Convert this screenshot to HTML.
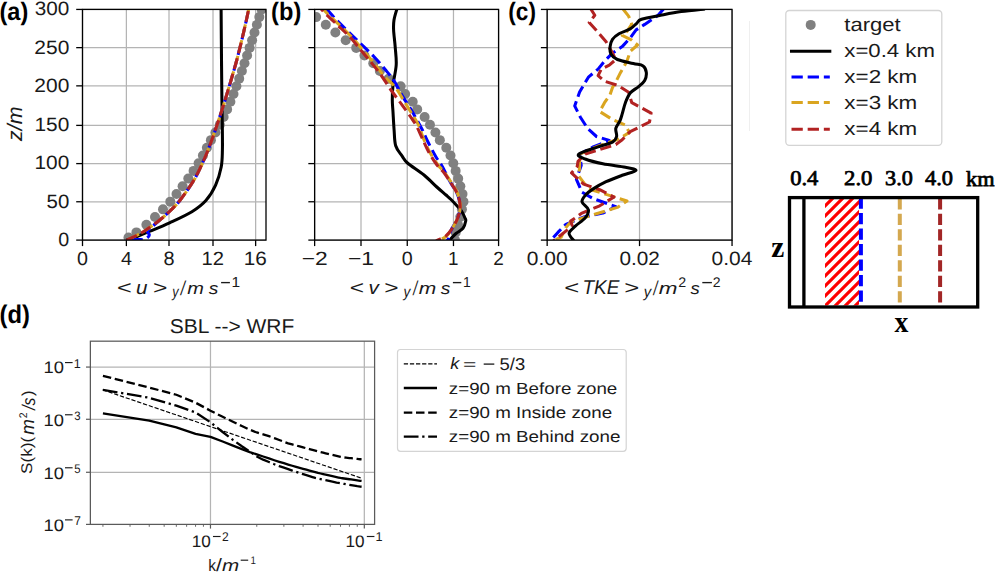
<!DOCTYPE html><html><head><meta charset="utf-8"><title>figure</title><style>html,body{margin:0;padding:0;background:#fff;overflow:hidden}svg{display:block}</style></head><body>
<svg width="995" height="573" viewBox="0 0 995 573" text-rendering="geometricPrecision">
<rect width="995" height="573" fill="#fff"/>
<defs>
<clipPath id="ca"><rect x="82.5" y="9.43" width="183.5" height="230.67"/></clipPath>
<clipPath id="cb"><rect x="314.63" y="9.43" width="183.95" height="230.67"/></clipPath>
<clipPath id="cc"><rect x="547.16" y="9.43" width="184.89" height="230.67"/></clipPath>
<clipPath id="cd"><rect x="90.37" y="341.18" width="284.23" height="183.21"/></clipPath>
<pattern id="hatch" patternUnits="userSpaceOnUse" width="10" height="10" patternTransform="translate(824,197)"><rect width="10" height="10" fill="#fff"/><path d="M-2.5,2.5 L2.5,-2.5 M0,10 L10,0 M7.5,12.5 L12.5,7.5" stroke="#ff0000" stroke-width="3.1"/></pattern>
</defs>
<line x1="82.50" y1="9.43" x2="82.50" y2="240.1" stroke="#b4b4b4" stroke-width="1.25"/>
<line x1="126.38" y1="9.43" x2="126.38" y2="240.1" stroke="#b4b4b4" stroke-width="1.25"/>
<line x1="169.00" y1="9.43" x2="169.00" y2="240.1" stroke="#b4b4b4" stroke-width="1.25"/>
<line x1="213.00" y1="9.43" x2="213.00" y2="240.1" stroke="#b4b4b4" stroke-width="1.25"/>
<line x1="255.64" y1="9.43" x2="255.64" y2="240.1" stroke="#b4b4b4" stroke-width="1.25"/>
<line x1="82.5" y1="240.10" x2="266.0" y2="240.10" stroke="#b4b4b4" stroke-width="1.25"/>
<line x1="82.5" y1="201.76" x2="266.0" y2="201.76" stroke="#b4b4b4" stroke-width="1.25"/>
<line x1="82.5" y1="163.60" x2="266.0" y2="163.60" stroke="#b4b4b4" stroke-width="1.25"/>
<line x1="82.5" y1="125.39" x2="266.0" y2="125.39" stroke="#b4b4b4" stroke-width="1.25"/>
<line x1="82.5" y1="85.86" x2="266.0" y2="85.86" stroke="#b4b4b4" stroke-width="1.25"/>
<line x1="82.5" y1="47.64" x2="266.0" y2="47.64" stroke="#b4b4b4" stroke-width="1.25"/>
<line x1="82.5" y1="9.43" x2="266.0" y2="9.43" stroke="#b4b4b4" stroke-width="1.25"/>
<g clip-path="url(#ca)">
<circle cx="128.5" cy="237.5" r="5" fill="#808080"/>
<circle cx="136.4" cy="232.41" r="5" fill="#808080"/>
<circle cx="146.4" cy="224.72" r="5" fill="#808080"/>
<circle cx="155" cy="217.03" r="5" fill="#808080"/>
<circle cx="163" cy="209.34" r="5" fill="#808080"/>
<circle cx="170.3" cy="201.66" r="5" fill="#808080"/>
<circle cx="176.5" cy="193.97" r="5" fill="#808080"/>
<circle cx="182.6" cy="186.28" r="5" fill="#808080"/>
<circle cx="188.3" cy="178.59" r="5" fill="#808080"/>
<circle cx="193.6" cy="170.90" r="5" fill="#808080"/>
<circle cx="198.6" cy="163.21" r="5" fill="#808080"/>
<circle cx="202.9" cy="155.52" r="5" fill="#808080"/>
<circle cx="206.9" cy="147.83" r="5" fill="#808080"/>
<circle cx="210.9" cy="140.14" r="5" fill="#808080"/>
<circle cx="215.4" cy="132.45" r="5" fill="#808080"/>
<circle cx="219.8" cy="124.77" r="5" fill="#808080"/>
<circle cx="223.6" cy="117.08" r="5" fill="#808080"/>
<circle cx="227.1" cy="109.39" r="5" fill="#808080"/>
<circle cx="230.4" cy="101.70" r="5" fill="#808080"/>
<circle cx="233.5" cy="94.01" r="5" fill="#808080"/>
<circle cx="236.4" cy="86.32" r="5" fill="#808080"/>
<circle cx="239.2" cy="78.63" r="5" fill="#808080"/>
<circle cx="241.9" cy="70.94" r="5" fill="#808080"/>
<circle cx="244.5" cy="63.25" r="5" fill="#808080"/>
<circle cx="247.1" cy="55.56" r="5" fill="#808080"/>
<circle cx="249.6" cy="47.88" r="5" fill="#808080"/>
<circle cx="252.1" cy="40.19" r="5" fill="#808080"/>
<circle cx="254.5" cy="32.50" r="5" fill="#808080"/>
<circle cx="256.9" cy="24.81" r="5" fill="#808080"/>
<circle cx="259.3" cy="17.12" r="5" fill="#808080"/>
<circle cx="261.7" cy="9.43" r="5" fill="#808080"/>
<path d="M126.30,240.20 C128.08,239.58 133.05,238.00 137.00,236.50 C140.95,235.00 144.57,233.48 150.00,231.20 C155.43,228.92 162.62,226.05 169.60,222.80 C176.58,219.55 185.85,215.42 191.90,211.70 C197.95,207.98 201.95,204.93 205.90,200.50 C209.85,196.07 213.05,190.68 215.60,185.10 C218.15,179.52 220.07,172.85 221.20,167.00 C222.33,161.15 222.22,157.00 222.40,150.00 C222.58,143.00 222.38,133.33 222.30,125.00 C222.22,116.67 222.03,110.83 221.90,100.00 C221.77,89.17 221.63,75.17 221.50,60.00 C221.37,44.83 221.17,17.50 221.10,9.00" fill="none" stroke="#000" stroke-width="3.05"/>
<path d="M126.50,240.20 C128.42,240.10 135.03,239.73 138.00,239.60 C140.97,239.47 142.53,239.92 144.30,239.40 C146.07,238.88 147.78,237.33 148.60,236.50 C149.42,235.67 149.38,235.18 149.20,234.40 C149.02,233.62 147.37,232.77 147.50,231.80 C147.63,230.83 147.95,230.57 150.00,228.60 C152.05,226.63 156.30,223.10 159.80,220.00 C163.30,216.90 167.60,213.33 171.00,210.00 C174.40,206.67 176.37,205.00 180.20,200.00 C184.03,195.00 190.05,186.67 194.00,180.00 C197.95,173.33 200.93,166.67 203.90,160.00 C206.87,153.33 209.33,146.67 211.80,140.00 C214.27,133.33 216.48,126.67 218.70,120.00 C220.92,113.33 223.03,106.67 225.10,100.00 C227.17,93.33 229.15,86.67 231.10,80.00 C233.05,73.33 235.02,66.67 236.80,60.00 C238.58,53.33 240.20,46.67 241.80,40.00 C243.40,33.33 245.25,25.17 246.40,20.00 C247.55,14.83 248.32,10.83 248.70,9.00" fill="none" stroke="#0000ff" stroke-width="3.05" stroke-dasharray="11.29,4.88" stroke-dashoffset="-5"/>
<path d="M126.50,240.20 C128.33,239.33 134.25,236.70 137.50,235.00 C140.75,233.30 142.28,232.50 146.00,230.00 C149.72,227.50 155.63,223.33 159.80,220.00 C163.97,216.67 167.60,213.33 171.00,210.00 C174.40,206.67 176.37,205.00 180.20,200.00 C184.03,195.00 190.05,186.67 194.00,180.00 C197.95,173.33 200.93,166.67 203.90,160.00 C206.87,153.33 209.33,146.67 211.80,140.00 C214.27,133.33 216.48,126.67 218.70,120.00 C220.92,113.33 223.03,106.67 225.10,100.00 C227.17,93.33 229.15,86.67 231.10,80.00 C233.05,73.33 235.02,66.67 236.80,60.00 C238.58,53.33 240.20,46.67 241.80,40.00 C243.40,33.33 245.25,25.17 246.40,20.00 C247.55,14.83 248.32,10.83 248.70,9.00" fill="none" stroke="#daa520" stroke-width="3.05" stroke-dasharray="11.29,4.88" stroke-dashoffset="-2.5"/>
<path d="M126.50,240.20 C128.33,239.33 134.25,236.70 137.50,235.00 C140.75,233.30 142.28,232.50 146.00,230.00 C149.72,227.50 155.63,223.33 159.80,220.00 C163.97,216.67 167.60,213.33 171.00,210.00 C174.40,206.67 176.37,205.00 180.20,200.00 C184.03,195.00 190.05,186.67 194.00,180.00 C197.95,173.33 200.93,166.67 203.90,160.00 C206.87,153.33 209.33,146.67 211.80,140.00 C214.27,133.33 216.48,126.67 218.70,120.00 C220.92,113.33 223.03,106.67 225.10,100.00 C227.17,93.33 229.15,86.67 231.10,80.00 C233.05,73.33 235.02,66.67 236.80,60.00 C238.58,53.33 240.20,46.67 241.80,40.00 C243.40,33.33 245.25,25.17 246.40,20.00 C247.55,14.83 248.32,10.83 248.70,9.00" fill="none" stroke="#b22222" stroke-width="3.05" stroke-dasharray="11.29,4.88"/>
</g>
<rect x="82.5" y="9.43" width="183.50" height="230.67" fill="none" stroke="#000" stroke-width="1.3"/>
<line x1="82.50" y1="240.1" x2="82.50" y2="246.10" stroke="#000" stroke-width="1.3"/>
<line x1="126.38" y1="240.1" x2="126.38" y2="246.10" stroke="#000" stroke-width="1.3"/>
<line x1="169.00" y1="240.1" x2="169.00" y2="246.10" stroke="#000" stroke-width="1.3"/>
<line x1="213.00" y1="240.1" x2="213.00" y2="246.10" stroke="#000" stroke-width="1.3"/>
<line x1="255.64" y1="240.1" x2="255.64" y2="246.10" stroke="#000" stroke-width="1.3"/>
<line x1="76.20" y1="240.10" x2="82.5" y2="240.10" stroke="#000" stroke-width="1.3"/>
<line x1="76.20" y1="201.76" x2="82.5" y2="201.76" stroke="#000" stroke-width="1.3"/>
<line x1="76.20" y1="163.60" x2="82.5" y2="163.60" stroke="#000" stroke-width="1.3"/>
<line x1="76.20" y1="125.39" x2="82.5" y2="125.39" stroke="#000" stroke-width="1.3"/>
<line x1="76.20" y1="85.86" x2="82.5" y2="85.86" stroke="#000" stroke-width="1.3"/>
<line x1="76.20" y1="47.64" x2="82.5" y2="47.64" stroke="#000" stroke-width="1.3"/>
<line x1="76.20" y1="9.43" x2="82.5" y2="9.43" stroke="#000" stroke-width="1.3"/>
<text x="77.02" y="264.67" font-size="19.23" font-family='"Liberation Sans", sans-serif' font-weight="normal" font-style="normal" fill="#1a1a1a" textLength="10.96" lengthAdjust="spacingAndGlyphs" >0</text>
<text x="120.96" y="264.60" font-size="19.07" font-family='"Liberation Sans", sans-serif' font-weight="normal" font-style="normal" fill="#1a1a1a" textLength="10.96" lengthAdjust="spacingAndGlyphs" >4</text>
<text x="163.46" y="264.67" font-size="19.23" font-family='"Liberation Sans", sans-serif' font-weight="normal" font-style="normal" fill="#1a1a1a" textLength="11.08" lengthAdjust="spacingAndGlyphs" >8</text>
<text x="201.53" y="264.60" font-size="19.13" font-family='"Liberation Sans", sans-serif' font-weight="normal" font-style="normal" fill="#1a1a1a" textLength="22.42" lengthAdjust="spacingAndGlyphs" >12</text>
<text x="243.78" y="264.67" font-size="19.23" font-family='"Liberation Sans", sans-serif' font-weight="normal" font-style="normal" fill="#1a1a1a" textLength="23.05" lengthAdjust="spacingAndGlyphs" >16</text>
<text x="58.31" y="245.97" font-size="19.23" font-family='"Liberation Sans", sans-serif' font-weight="normal" font-style="normal" fill="#1a1a1a" textLength="10.96" lengthAdjust="spacingAndGlyphs" >0</text>
<text x="46.57" y="207.63" font-size="19.23" font-family='"Liberation Sans", sans-serif' font-weight="normal" font-style="normal" fill="#1a1a1a" textLength="22.73" lengthAdjust="spacingAndGlyphs" >50</text>
<text x="34.51" y="169.47" font-size="19.23" font-family='"Liberation Sans", sans-serif' font-weight="normal" font-style="normal" fill="#1a1a1a" textLength="34.80" lengthAdjust="spacingAndGlyphs" >100</text>
<text x="34.51" y="131.26" font-size="19.23" font-family='"Liberation Sans", sans-serif' font-weight="normal" font-style="normal" fill="#1a1a1a" textLength="34.80" lengthAdjust="spacingAndGlyphs" >150</text>
<text x="34.37" y="91.73" font-size="19.23" font-family='"Liberation Sans", sans-serif' font-weight="normal" font-style="normal" fill="#1a1a1a" textLength="34.95" lengthAdjust="spacingAndGlyphs" >200</text>
<text x="34.37" y="53.51" font-size="19.23" font-family='"Liberation Sans", sans-serif' font-weight="normal" font-style="normal" fill="#1a1a1a" textLength="34.95" lengthAdjust="spacingAndGlyphs" >250</text>
<text x="34.68" y="15.30" font-size="19.23" font-family='"Liberation Sans", sans-serif' font-weight="normal" font-style="normal" fill="#1a1a1a" textLength="34.63" lengthAdjust="spacingAndGlyphs" >300</text>
<line x1="314.63" y1="9.43" x2="314.63" y2="240.1" stroke="#b4b4b4" stroke-width="1.25"/>
<line x1="361.00" y1="9.43" x2="361.00" y2="240.1" stroke="#b4b4b4" stroke-width="1.25"/>
<line x1="407.26" y1="9.43" x2="407.26" y2="240.1" stroke="#b4b4b4" stroke-width="1.25"/>
<line x1="453.47" y1="9.43" x2="453.47" y2="240.1" stroke="#b4b4b4" stroke-width="1.25"/>
<line x1="498.58" y1="9.43" x2="498.58" y2="240.1" stroke="#b4b4b4" stroke-width="1.25"/>
<line x1="314.63" y1="240.10" x2="498.58" y2="240.10" stroke="#b4b4b4" stroke-width="1.25"/>
<line x1="314.63" y1="201.76" x2="498.58" y2="201.76" stroke="#b4b4b4" stroke-width="1.25"/>
<line x1="314.63" y1="163.60" x2="498.58" y2="163.60" stroke="#b4b4b4" stroke-width="1.25"/>
<line x1="314.63" y1="125.39" x2="498.58" y2="125.39" stroke="#b4b4b4" stroke-width="1.25"/>
<line x1="314.63" y1="85.86" x2="498.58" y2="85.86" stroke="#b4b4b4" stroke-width="1.25"/>
<line x1="314.63" y1="47.64" x2="498.58" y2="47.64" stroke="#b4b4b4" stroke-width="1.25"/>
<line x1="314.63" y1="9.43" x2="498.58" y2="9.43" stroke="#b4b4b4" stroke-width="1.25"/>
<g clip-path="url(#cb)">
<circle cx="455.00" cy="240.10" r="5" fill="#808080"/>
<circle cx="455.71" cy="232.41" r="5" fill="#808080"/>
<circle cx="458.00" cy="224.72" r="5" fill="#808080"/>
<circle cx="460.29" cy="217.03" r="5" fill="#808080"/>
<circle cx="461.93" cy="209.34" r="5" fill="#808080"/>
<circle cx="463.47" cy="201.66" r="5" fill="#808080"/>
<circle cx="462.53" cy="193.97" r="5" fill="#808080"/>
<circle cx="460.35" cy="186.28" r="5" fill="#808080"/>
<circle cx="458.19" cy="178.59" r="5" fill="#808080"/>
<circle cx="455.65" cy="170.90" r="5" fill="#808080"/>
<circle cx="453.30" cy="163.21" r="5" fill="#808080"/>
<circle cx="450.51" cy="155.52" r="5" fill="#808080"/>
<circle cx="446.29" cy="147.83" r="5" fill="#808080"/>
<circle cx="439.84" cy="140.14" r="5" fill="#808080"/>
<circle cx="435.43" cy="132.45" r="5" fill="#808080"/>
<circle cx="429.97" cy="124.77" r="5" fill="#808080"/>
<circle cx="424.64" cy="117.08" r="5" fill="#808080"/>
<circle cx="417.20" cy="109.39" r="5" fill="#808080"/>
<circle cx="412.71" cy="101.70" r="5" fill="#808080"/>
<circle cx="405.11" cy="94.01" r="5" fill="#808080"/>
<circle cx="400.61" cy="86.32" r="5" fill="#808080"/>
<circle cx="388.66" cy="78.63" r="5" fill="#808080"/>
<circle cx="379.85" cy="70.94" r="5" fill="#808080"/>
<circle cx="373.25" cy="63.25" r="5" fill="#808080"/>
<circle cx="364.45" cy="55.56" r="5" fill="#808080"/>
<circle cx="356.20" cy="47.88" r="5" fill="#808080"/>
<circle cx="345.71" cy="40.19" r="5" fill="#808080"/>
<circle cx="335.37" cy="32.50" r="5" fill="#808080"/>
<circle cx="325.80" cy="24.81" r="5" fill="#808080"/>
<circle cx="316.12" cy="17.12" r="5" fill="#808080"/>
<circle cx="306.43" cy="9.43" r="5" fill="#808080"/>
<path d="M396.90,9.00 C396.42,10.83 394.55,16.50 394.00,20.00 C393.45,23.50 393.40,25.50 393.60,30.00 C393.80,34.50 394.77,41.17 395.20,47.00 C395.63,52.83 396.57,58.67 396.20,65.00 C395.83,71.33 393.65,79.17 393.00,85.00 C392.35,90.83 392.30,95.50 392.30,100.00 C392.30,104.50 392.70,107.00 393.00,112.00 C393.30,117.00 393.65,124.38 394.10,130.00 C394.55,135.62 394.38,141.38 395.70,145.70 C397.02,150.02 400.03,153.02 402.00,155.90 C403.97,158.78 403.83,159.82 407.50,163.00 C411.17,166.18 419.12,171.00 424.00,175.00 C428.88,179.00 433.13,183.67 436.80,187.00 C440.47,190.33 443.63,192.92 446.00,195.00 C448.37,197.08 449.22,197.75 451.00,199.50 C452.78,201.25 454.95,203.58 456.70,205.50 C458.45,207.42 460.12,208.92 461.50,211.00 C462.88,213.08 464.30,216.33 465.00,218.00 C465.70,219.67 466.03,219.28 465.70,221.00 C465.37,222.72 464.62,226.22 463.00,228.30 C461.38,230.38 458.10,231.67 456.00,233.50 C453.90,235.33 451.48,238.08 450.40,239.30 C449.32,240.52 449.65,240.55 449.50,240.80" fill="none" stroke="#000" stroke-width="3.05"/>
<path d="M326.50,9.00 C328.23,10.90 333.20,16.55 336.90,20.40 C340.60,24.25 344.68,28.17 348.70,32.10 C352.72,36.03 356.82,39.93 361.00,44.00 C365.18,48.07 369.77,52.25 373.80,56.50 C377.83,60.75 381.85,65.47 385.20,69.50 C388.55,73.53 391.10,76.38 393.90,80.70 C396.70,85.02 399.18,90.63 402.00,95.40 C404.82,100.17 408.30,105.20 410.80,109.30 C413.30,113.40 415.07,116.55 417.00,120.00 C418.93,123.45 420.57,126.33 422.40,130.00 C424.23,133.67 425.73,137.50 428.00,142.00 C430.27,146.50 433.67,153.00 436.00,157.00 C438.33,161.00 439.65,161.87 442.00,166.00 C444.35,170.13 447.70,177.47 450.10,181.80 C452.50,186.13 454.82,188.73 456.40,192.00 C457.98,195.27 459.02,198.37 459.60,201.40 C460.18,204.43 460.38,207.03 459.90,210.20 C459.42,213.37 458.15,217.12 456.70,220.40 C455.25,223.68 452.58,226.88 451.20,229.90 C449.82,232.92 449.10,236.68 448.40,238.50 C447.70,240.32 447.23,240.42 447.00,240.80" fill="none" stroke="#0000ff" stroke-width="3.05" stroke-dasharray="11.29,4.88"/>
<path d="M323.20,9.00 C323.93,9.80 324.80,11.05 327.60,13.80 C330.40,16.55 335.92,21.58 340.00,25.50 C344.08,29.42 348.17,33.05 352.10,37.30 C356.03,41.55 359.88,46.62 363.60,51.00 C367.32,55.38 370.92,59.35 374.40,63.60 C377.88,67.85 381.00,72.55 384.50,76.50 C388.00,80.45 392.12,83.17 395.40,87.30 C398.68,91.43 401.15,96.40 404.20,101.30 C407.25,106.20 411.32,112.75 413.70,116.70 C416.08,120.65 416.87,121.35 418.50,125.00 C420.13,128.65 421.63,134.10 423.50,138.60 C425.37,143.10 427.28,147.60 429.70,152.00 C432.12,156.40 435.57,161.67 438.00,165.00 C440.43,168.33 442.17,169.20 444.30,172.00 C446.43,174.80 448.70,178.47 450.80,181.80 C452.90,185.13 455.40,188.73 456.90,192.00 C458.40,195.27 459.30,198.37 459.80,201.40 C460.30,204.43 460.42,207.03 459.90,210.20 C459.38,213.37 458.15,217.12 456.70,220.40 C455.25,223.68 452.90,227.28 451.20,229.90 C449.50,232.52 448.12,234.53 446.50,236.10 C444.88,237.67 442.83,238.52 441.50,239.30 C440.17,240.08 439.00,240.55 438.50,240.80" fill="none" stroke="#daa520" stroke-width="3.05" stroke-dasharray="11.29,4.88" stroke-dashoffset="4"/>
<path d="M321.20,9.00 C321.93,9.80 322.80,11.05 325.60,13.80 C328.40,16.55 333.92,21.58 338.00,25.50 C342.08,29.42 346.17,33.05 350.10,37.30 C354.03,41.55 357.92,46.62 361.60,51.00 C365.28,55.38 368.80,59.35 372.20,63.60 C375.60,67.85 378.75,71.93 382.00,76.50 C385.25,81.07 388.37,86.27 391.70,91.00 C395.03,95.73 398.70,100.38 402.00,104.90 C405.30,109.42 409.08,114.58 411.50,118.10 C413.92,121.62 414.68,122.58 416.50,126.00 C418.32,129.42 420.37,134.27 422.40,138.60 C424.43,142.93 426.27,147.60 428.70,152.00 C431.13,156.40 434.53,161.67 437.00,165.00 C439.47,168.33 441.32,169.20 443.50,172.00 C445.68,174.80 447.95,178.47 450.10,181.80 C452.25,185.13 454.82,188.73 456.40,192.00 C457.98,195.27 459.02,198.37 459.60,201.40 C460.18,204.43 460.38,207.03 459.90,210.20 C459.42,213.37 458.15,217.12 456.70,220.40 C455.25,223.68 453.03,227.28 451.20,229.90 C449.37,232.52 447.67,234.53 445.70,236.10 C443.73,237.67 441.02,238.52 439.40,239.30 C437.78,240.08 436.57,240.55 436.00,240.80" fill="none" stroke="#b22222" stroke-width="3.05" stroke-dasharray="11.29,4.88" stroke-dashoffset="8"/>
</g>
<rect x="314.63" y="9.43" width="183.95" height="230.67" fill="none" stroke="#000" stroke-width="1.3"/>
<line x1="314.63" y1="240.1" x2="314.63" y2="246.10" stroke="#000" stroke-width="1.3"/>
<line x1="361.00" y1="240.1" x2="361.00" y2="246.10" stroke="#000" stroke-width="1.3"/>
<line x1="407.26" y1="240.1" x2="407.26" y2="246.10" stroke="#000" stroke-width="1.3"/>
<line x1="453.47" y1="240.1" x2="453.47" y2="246.10" stroke="#000" stroke-width="1.3"/>
<line x1="498.58" y1="240.1" x2="498.58" y2="246.10" stroke="#000" stroke-width="1.3"/>
<line x1="308.33" y1="240.10" x2="314.63" y2="240.10" stroke="#000" stroke-width="1.3"/>
<line x1="308.33" y1="201.76" x2="314.63" y2="201.76" stroke="#000" stroke-width="1.3"/>
<line x1="308.33" y1="163.60" x2="314.63" y2="163.60" stroke="#000" stroke-width="1.3"/>
<line x1="308.33" y1="125.39" x2="314.63" y2="125.39" stroke="#000" stroke-width="1.3"/>
<line x1="308.33" y1="85.86" x2="314.63" y2="85.86" stroke="#000" stroke-width="1.3"/>
<line x1="308.33" y1="47.64" x2="314.63" y2="47.64" stroke="#000" stroke-width="1.3"/>
<line x1="308.33" y1="9.43" x2="314.63" y2="9.43" stroke="#000" stroke-width="1.3"/>
<text x="301.65" y="264.60" font-size="19.13" font-family='"Liberation Sans", sans-serif' font-weight="normal" font-style="normal" fill="#1a1a1a" textLength="25.98" lengthAdjust="spacingAndGlyphs" >−2</text>
<text x="347.94" y="264.60" font-size="19.07" font-family='"Liberation Sans", sans-serif' font-weight="normal" font-style="normal" fill="#1a1a1a" textLength="26.11" lengthAdjust="spacingAndGlyphs" >−1</text>
<text x="401.78" y="264.67" font-size="19.23" font-family='"Liberation Sans", sans-serif' font-weight="normal" font-style="normal" fill="#1a1a1a" textLength="10.96" lengthAdjust="spacingAndGlyphs" >0</text>
<text x="447.98" y="264.60" font-size="19.07" font-family='"Liberation Sans", sans-serif' font-weight="normal" font-style="normal" fill="#1a1a1a" textLength="10.47" lengthAdjust="spacingAndGlyphs" >1</text>
<text x="493.30" y="264.60" font-size="19.13" font-family='"Liberation Sans", sans-serif' font-weight="normal" font-style="normal" fill="#1a1a1a" textLength="10.57" lengthAdjust="spacingAndGlyphs" >2</text>
<line x1="547.16" y1="9.43" x2="547.16" y2="240.1" stroke="#b4b4b4" stroke-width="1.25"/>
<line x1="639.53" y1="9.43" x2="639.53" y2="240.1" stroke="#b4b4b4" stroke-width="1.25"/>
<line x1="732.05" y1="9.43" x2="732.05" y2="240.1" stroke="#b4b4b4" stroke-width="1.25"/>
<line x1="547.16" y1="240.10" x2="732.05" y2="240.10" stroke="#b4b4b4" stroke-width="1.25"/>
<line x1="547.16" y1="201.76" x2="732.05" y2="201.76" stroke="#b4b4b4" stroke-width="1.25"/>
<line x1="547.16" y1="163.60" x2="732.05" y2="163.60" stroke="#b4b4b4" stroke-width="1.25"/>
<line x1="547.16" y1="125.39" x2="732.05" y2="125.39" stroke="#b4b4b4" stroke-width="1.25"/>
<line x1="547.16" y1="85.86" x2="732.05" y2="85.86" stroke="#b4b4b4" stroke-width="1.25"/>
<line x1="547.16" y1="47.64" x2="732.05" y2="47.64" stroke="#b4b4b4" stroke-width="1.25"/>
<line x1="547.16" y1="9.43" x2="732.05" y2="9.43" stroke="#b4b4b4" stroke-width="1.25"/>
<g clip-path="url(#cc)">
<path d="M663.50,9.00 L658.10,15.30 L644.70,24.40 L636.10,29.90 L630.50,37.50 L622.20,46.60 L612.50,53.10 L604.50,61.10 L598.10,69.10 L588.40,77.20 L579.60,92.00 L574.70,105.90 L580.40,117.20 L587.60,128.40 L596.50,136.50 L609.30,140.50 L593.20,146.90 L579.60,154.10 L581.20,165.40 L576.40,179.30 L582.00,192.20 L593.20,198.60 L615.80,206.60 L602.90,213.10 L583.60,217.10 L565.90,224.30 L557.90,232.40 L550.50,240.80" fill="none" stroke="#0000ff" stroke-width="3.05" stroke-dasharray="11.29,4.88" stroke-linejoin="round"/>
<path d="M623.00,9.00 L628.60,16.10 L631.80,24.10 L627.00,31.40 L622.20,35.40 L631.80,40.20 L637.50,45.00 L630.20,51.50 L627.00,61.10 L620.60,72.40 L615.80,82.00 L612.50,87.60 L610.10,94.60 L604.50,102.70 L599.70,111.50 L612.50,119.60 L625.40,125.20 L629.40,132.40 L619.00,138.90 L598.10,146.10 L579.60,154.10 L579.60,167.00 L578.80,176.10 L588.40,188.90 L609.30,195.40 L627.00,201.00 L617.40,207.40 L593.20,214.70 L570.70,221.90 L565.90,227.50 L561.10,237.20 L553.50,240.80" fill="none" stroke="#daa520" stroke-width="3.05" stroke-dasharray="11.29,4.88" stroke-linejoin="round"/>
<path d="M590.80,9.00 L594.80,15.30 L589.20,22.50 L596.50,30.60 L606.10,41.80 L612.50,53.10 L615.80,59.50 L609.30,65.10 L601.30,69.10 L598.10,75.60 L604.50,81.20 L617.40,85.20 L628.60,92.20 L631.80,102.70 L651.10,113.10 L649.50,122.00 L630.20,131.60 L622.20,139.70 L615.80,144.50 L585.20,154.10 L578.00,161.40 L577.20,166.40 L571.50,172.90 L583.60,184.10 L599.70,189.70 L614.10,197.00 L599.70,205.80 L582.00,213.10 L570.70,221.10 L572.30,225.90 L564.30,232.40 L553.50,240.80" fill="none" stroke="#b22222" stroke-width="3.05" stroke-dasharray="11.29,4.88" stroke-linejoin="round"/>
<path d="M705.00,9.00 C701.05,9.43 688.70,10.55 681.30,11.60 C673.90,12.65 667.23,14.02 660.60,15.30 C653.97,16.58 645.48,17.97 641.50,19.30 C637.52,20.63 638.58,21.70 636.70,23.30 C634.82,24.90 633.15,27.15 630.20,28.90 C627.25,30.65 621.95,32.05 619.00,33.80 C616.05,35.55 613.98,37.27 612.50,39.40 C611.02,41.53 610.37,44.18 610.10,46.60 C609.83,49.02 609.68,51.75 610.90,53.90 C612.12,56.05 613.65,57.90 617.40,59.50 C621.15,61.10 629.12,62.43 633.40,63.50 C637.68,64.57 640.95,64.42 643.10,65.90 C645.25,67.38 646.03,69.98 646.30,72.40 C646.57,74.82 646.03,78.00 644.70,80.40 C643.37,82.80 640.72,84.70 638.30,86.80 C635.88,88.90 632.35,90.35 630.20,93.00 C628.05,95.65 626.73,99.22 625.40,102.70 C624.07,106.18 623.13,110.82 622.20,113.90 C621.27,116.98 620.87,118.78 619.80,121.20 C618.73,123.62 616.33,125.85 615.80,128.40 C615.27,130.95 617.15,134.22 616.60,136.50 C616.05,138.78 615.58,140.37 612.50,142.10 C609.42,143.83 603.72,144.90 598.10,146.90 C592.48,148.90 580.95,152.08 578.80,154.10 C576.65,156.12 581.18,157.38 585.20,159.00 C589.22,160.62 596.20,162.43 602.90,163.80 C609.60,165.17 619.90,166.08 625.40,167.20 C630.90,168.32 636.43,169.15 635.90,170.50 C635.37,171.85 627.17,173.43 622.20,175.30 C617.23,177.17 610.93,179.43 606.10,181.70 C601.27,183.97 596.55,186.75 593.20,188.90 C589.85,191.05 587.87,192.45 586.00,194.60 C584.13,196.75 581.60,199.27 582.00,201.80 C582.40,204.33 587.87,207.12 588.40,209.80 C588.93,212.48 587.33,215.22 585.20,217.90 C583.07,220.58 578.28,223.35 575.60,225.90 C572.92,228.45 569.38,230.72 569.10,233.20 C568.82,235.68 573.10,239.53 573.90,240.80" fill="none" stroke="#000" stroke-width="3.05" stroke-linejoin="round"/>
</g>
<rect x="547.16" y="9.43" width="184.89" height="230.67" fill="none" stroke="#000" stroke-width="1.3"/>
<line x1="547.16" y1="240.1" x2="547.16" y2="246.10" stroke="#000" stroke-width="1.3"/>
<line x1="639.53" y1="240.1" x2="639.53" y2="246.10" stroke="#000" stroke-width="1.3"/>
<line x1="732.05" y1="240.1" x2="732.05" y2="246.10" stroke="#000" stroke-width="1.3"/>
<line x1="540.86" y1="240.10" x2="547.16" y2="240.10" stroke="#000" stroke-width="1.3"/>
<line x1="540.86" y1="201.76" x2="547.16" y2="201.76" stroke="#000" stroke-width="1.3"/>
<line x1="540.86" y1="163.60" x2="547.16" y2="163.60" stroke="#000" stroke-width="1.3"/>
<line x1="540.86" y1="125.39" x2="547.16" y2="125.39" stroke="#000" stroke-width="1.3"/>
<line x1="540.86" y1="85.86" x2="547.16" y2="85.86" stroke="#000" stroke-width="1.3"/>
<line x1="540.86" y1="47.64" x2="547.16" y2="47.64" stroke="#000" stroke-width="1.3"/>
<line x1="540.86" y1="9.43" x2="547.16" y2="9.43" stroke="#000" stroke-width="1.3"/>
<text x="526.76" y="264.67" font-size="19.23" font-family='"Liberation Sans", sans-serif' font-weight="normal" font-style="normal" fill="#1a1a1a" textLength="40.80" lengthAdjust="spacingAndGlyphs" >0.00</text>
<text x="619.45" y="264.67" font-size="19.23" font-family='"Liberation Sans", sans-serif' font-weight="normal" font-style="normal" fill="#1a1a1a" textLength="40.39" lengthAdjust="spacingAndGlyphs" >0.02</text>
<text x="711.55" y="264.67" font-size="19.23" font-family='"Liberation Sans", sans-serif' font-weight="normal" font-style="normal" fill="#1a1a1a" textLength="40.79" lengthAdjust="spacingAndGlyphs" >0.04</text>
<text x="-0.47" y="20.45" font-size="25.32" font-family='"Liberation Sans", sans-serif' font-weight="bold" font-style="normal" fill="#000" textLength="28.74" lengthAdjust="spacingAndGlyphs" >(a)</text>
<text x="271.12" y="20.45" font-size="25.32" font-family='"Liberation Sans", sans-serif' font-weight="bold" font-style="normal" fill="#000" textLength="30.15" lengthAdjust="spacingAndGlyphs" >(b)</text>
<text x="508.27" y="20.45" font-size="25.32" font-family='"Liberation Sans", sans-serif' font-weight="bold" font-style="normal" fill="#000" textLength="27.65" lengthAdjust="spacingAndGlyphs" >(c)</text>
<text x="-0.38" y="322.60" font-size="25.53" font-family='"Liberation Sans", sans-serif' font-weight="bold" font-style="normal" fill="#000" textLength="30.37" lengthAdjust="spacingAndGlyphs" >(d)</text>
<text x="117.05" y="294.21" font-size="18.71" font-family='"Liberation Sans", sans-serif' font-weight="normal" font-style="normal" fill="#1a1a1a" textLength="14.78" lengthAdjust="spacingAndGlyphs" >&lt;</text>
<text x="136.13" y="293.62" font-size="18.97" font-family='"Liberation Sans", sans-serif' font-weight="normal" font-style="italic" fill="#1a1a1a" textLength="11.48" lengthAdjust="spacingAndGlyphs" >u</text>
<text x="152.98" y="294.21" font-size="18.71" font-family='"Liberation Sans", sans-serif' font-weight="normal" font-style="normal" fill="#1a1a1a" textLength="14.42" lengthAdjust="spacingAndGlyphs" >&gt;</text>
<text x="172.22" y="297.23" font-size="15.76" font-family='"Liberation Sans", sans-serif' font-weight="normal" font-style="italic" fill="#1a1a1a" textLength="6.34" lengthAdjust="spacingAndGlyphs" >y</text>
<text x="180.76" y="294.70" font-size="20.15" font-family='"Liberation Sans", sans-serif' font-weight="normal" font-style="italic" fill="#1a1a1a" textLength="4.23" lengthAdjust="spacingAndGlyphs" >/</text>
<text x="187.37" y="293.80" font-size="16.93" font-family='"Liberation Sans", sans-serif' font-weight="normal" font-style="italic" fill="#1a1a1a" textLength="16.66" lengthAdjust="spacingAndGlyphs" >m</text>
<text x="208.75" y="293.64" font-size="16.65" font-family='"Liberation Sans", sans-serif' font-weight="normal" font-style="italic" fill="#1a1a1a" textLength="9.54" lengthAdjust="spacingAndGlyphs" >s</text>
<rect x="221.10" y="281.93" width="8.80" height="1.35" fill="#1a1a1a"/>
<text x="231.52" y="286.80" font-size="14.39" font-family='"Liberation Sans", sans-serif' font-weight="normal" font-style="normal" fill="#1a1a1a" textLength="8.64" lengthAdjust="spacingAndGlyphs" >1</text>
<text x="349.79" y="294.21" font-size="18.71" font-family='"Liberation Sans", sans-serif' font-weight="normal" font-style="normal" fill="#1a1a1a" textLength="14.30" lengthAdjust="spacingAndGlyphs" >&lt;</text>
<text x="368.47" y="293.80" font-size="18.93" font-family='"Liberation Sans", sans-serif' font-weight="normal" font-style="italic" fill="#1a1a1a" textLength="10.34" lengthAdjust="spacingAndGlyphs" >v</text>
<text x="384.29" y="294.21" font-size="18.71" font-family='"Liberation Sans", sans-serif' font-weight="normal" font-style="normal" fill="#1a1a1a" textLength="14.30" lengthAdjust="spacingAndGlyphs" >&gt;</text>
<text x="403.47" y="297.23" font-size="15.76" font-family='"Liberation Sans", sans-serif' font-weight="normal" font-style="italic" fill="#1a1a1a" textLength="6.84" lengthAdjust="spacingAndGlyphs" >y</text>
<text x="413.21" y="294.70" font-size="20.15" font-family='"Liberation Sans", sans-serif' font-weight="normal" font-style="italic" fill="#1a1a1a" textLength="3.97" lengthAdjust="spacingAndGlyphs" >/</text>
<text x="418.75" y="293.80" font-size="16.93" font-family='"Liberation Sans", sans-serif' font-weight="normal" font-style="italic" fill="#1a1a1a" textLength="17.53" lengthAdjust="spacingAndGlyphs" >m</text>
<text x="440.85" y="293.64" font-size="16.65" font-family='"Liberation Sans", sans-serif' font-weight="normal" font-style="italic" fill="#1a1a1a" textLength="9.54" lengthAdjust="spacingAndGlyphs" >s</text>
<rect x="452.90" y="281.93" width="8.40" height="1.35" fill="#1a1a1a"/>
<text x="463.04" y="286.80" font-size="14.39" font-family='"Liberation Sans", sans-serif' font-weight="normal" font-style="normal" fill="#1a1a1a" textLength="7.74" lengthAdjust="spacingAndGlyphs" >1</text>
<text x="564.33" y="294.21" font-size="18.71" font-family='"Liberation Sans", sans-serif' font-weight="normal" font-style="normal" fill="#1a1a1a" textLength="15.03" lengthAdjust="spacingAndGlyphs" >&lt;</text>
<text x="582.39" y="293.70" font-size="19.91" font-family='"Liberation Sans", sans-serif' font-weight="normal" font-style="italic" fill="#1a1a1a" textLength="36.93" lengthAdjust="spacingAndGlyphs" >TKE</text>
<text x="624.23" y="294.21" font-size="18.71" font-family='"Liberation Sans", sans-serif' font-weight="normal" font-style="normal" fill="#1a1a1a" textLength="15.03" lengthAdjust="spacingAndGlyphs" >&gt;</text>
<text x="643.84" y="297.23" font-size="15.76" font-family='"Liberation Sans", sans-serif' font-weight="normal" font-style="italic" fill="#1a1a1a" textLength="7.41" lengthAdjust="spacingAndGlyphs" >y</text>
<text x="653.61" y="294.70" font-size="20.15" font-family='"Liberation Sans", sans-serif' font-weight="normal" font-style="italic" fill="#1a1a1a" textLength="3.97" lengthAdjust="spacingAndGlyphs" >/</text>
<text x="658.83" y="293.80" font-size="16.93" font-family='"Liberation Sans", sans-serif' font-weight="normal" font-style="italic" fill="#1a1a1a" textLength="18.72" lengthAdjust="spacingAndGlyphs" >m</text>
<text x="678.18" y="286.90" font-size="13.89" font-family='"Liberation Sans", sans-serif' font-weight="normal" font-style="normal" fill="#1a1a1a" textLength="7.94" lengthAdjust="spacingAndGlyphs" >2</text>
<text x="690.55" y="293.64" font-size="16.65" font-family='"Liberation Sans", sans-serif' font-weight="normal" font-style="italic" fill="#1a1a1a" textLength="9.22" lengthAdjust="spacingAndGlyphs" >s</text>
<rect x="702.30" y="281.93" width="9.60" height="1.35" fill="#1a1a1a"/>
<text x="712.79" y="286.90" font-size="13.89" font-family='"Liberation Sans", sans-serif' font-weight="normal" font-style="normal" fill="#1a1a1a" textLength="7.81" lengthAdjust="spacingAndGlyphs" >2</text>
<g transform="translate(21,141) rotate(-90)">
<text x="0.13" y="1.39" font-size="21.11" font-family='"Liberation Sans", sans-serif' font-weight="normal" font-style="italic" fill="#1a1a1a" textLength="34.36" lengthAdjust="spacingAndGlyphs" >z/m</text>
</g>
<line x1="749.5" y1="21" x2="749.5" y2="131" stroke="#efefef" stroke-width="1"/>
<rect x="785.8" y="10.5" width="156.0" height="134.8" rx="3.5" fill="#fff" stroke="#d4d4d4" stroke-width="1.3"/>
<circle cx="810.7" cy="24.9" r="5" fill="#808080"/>
<line x1="791.5" y1="51.3" x2="829.8" y2="51.3" stroke="#000" stroke-width="3.05" stroke-linecap="square"/>
<line x1="791.5" y1="77.0" x2="829.8" y2="77.0" stroke="#0000ff" stroke-width="3.05" stroke-dasharray="11.29,4.88"/>
<line x1="791.5" y1="102.5" x2="829.8" y2="102.5" stroke="#daa520" stroke-width="3.05" stroke-dasharray="11.29,4.88"/>
<line x1="791.5" y1="129.3" x2="829.8" y2="129.3" stroke="#b22222" stroke-width="3.05" stroke-dasharray="11.29,4.88"/>
<text x="844.27" y="30.56" font-size="19.08" font-family='"Liberation Sans", sans-serif' font-weight="normal" font-style="normal" fill="#1a1a1a" textLength="56.43" lengthAdjust="spacingAndGlyphs" >target</text>
<text x="844.35" y="56.67" font-size="18.86" font-family='"Liberation Sans", sans-serif' font-weight="normal" font-style="normal" fill="#1a1a1a" textLength="90.57" lengthAdjust="spacingAndGlyphs" >x=0.4 km</text>
<text x="844.35" y="82.80" font-size="18.77" font-family='"Liberation Sans", sans-serif' font-weight="normal" font-style="normal" fill="#1a1a1a" textLength="72.84" lengthAdjust="spacingAndGlyphs" >x=2 km</text>
<text x="844.35" y="108.77" font-size="18.86" font-family='"Liberation Sans", sans-serif' font-weight="normal" font-style="normal" fill="#1a1a1a" textLength="72.84" lengthAdjust="spacingAndGlyphs" >x=3 km</text>
<text x="844.35" y="134.50" font-size="18.77" font-family='"Liberation Sans", sans-serif' font-weight="normal" font-style="normal" fill="#1a1a1a" textLength="72.84" lengthAdjust="spacingAndGlyphs" >x=4 km</text>
<rect x="825" y="199" width="34" height="106.5" fill="url(#hatch)"/>
<line x1="803.9" y1="197.6" x2="803.9" y2="307" stroke="#000" stroke-width="3.3"/>
<line x1="860.9" y1="197.6" x2="860.9" y2="305.5" stroke="#0000ff" stroke-width="4" stroke-dasharray="11.2,4.3"/>
<line x1="899.8" y1="197.6" x2="899.8" y2="305.5" stroke="#d4a84f" stroke-width="4" stroke-dasharray="11.2,4.3" stroke-dashoffset="-0.6"/>
<line x1="940.1" y1="197.6" x2="940.1" y2="305.5" stroke="#a22626" stroke-width="4" stroke-dasharray="11.2,4.3" stroke-dashoffset="-0.6"/>
<rect x="789.5" y="197.6" width="188.2" height="109.4" fill="none" stroke="#000" stroke-width="3.3"/>
<text x="790.19" y="185.25" font-size="21.05" font-family='"Liberation Serif", serif' font-weight="normal" font-style="normal" fill="#000" textLength="28.21" lengthAdjust="spacingAndGlyphs" stroke="#000" stroke-width="0.75">0.4</text>
<text x="844.05" y="185.25" font-size="21.05" font-family='"Liberation Serif", serif' font-weight="normal" font-style="normal" fill="#000" textLength="28.36" lengthAdjust="spacingAndGlyphs" stroke="#000" stroke-width="0.75">2.0</text>
<text x="885.09" y="185.25" font-size="21.05" font-family='"Liberation Serif", serif' font-weight="normal" font-style="normal" fill="#000" textLength="27.70" lengthAdjust="spacingAndGlyphs" stroke="#000" stroke-width="0.75">3.0</text>
<text x="925.01" y="185.25" font-size="21.05" font-family='"Liberation Serif", serif' font-weight="normal" font-style="normal" fill="#000" textLength="27.99" lengthAdjust="spacingAndGlyphs" stroke="#000" stroke-width="0.75">4.0</text>
<text x="966.13" y="185.55" font-size="21.33" font-family='"Liberation Serif", serif' font-weight="normal" font-style="normal" fill="#000" textLength="28.47" lengthAdjust="spacingAndGlyphs" stroke="#000" stroke-width="0.75">km</text>
<text x="771.33" y="256.90" font-size="30.50" font-family='"Liberation Serif", serif' font-weight="bold" font-style="normal" fill="#000" textLength="13.02" lengthAdjust="spacingAndGlyphs" >z</text>
<text x="894.59" y="331.50" font-size="30.72" font-family='"Liberation Serif", serif' font-weight="bold" font-style="normal" fill="#000" textLength="13.86" lengthAdjust="spacingAndGlyphs" >x</text>
<line x1="210.47" y1="341.18" x2="210.47" y2="524.39" stroke="#b4b4b4" stroke-width="1.25"/>
<line x1="364.32" y1="341.18" x2="364.32" y2="524.39" stroke="#b4b4b4" stroke-width="1.25"/>
<line x1="90.37" y1="367.07" x2="374.6" y2="367.07" stroke="#b4b4b4" stroke-width="1.25"/>
<line x1="90.37" y1="419.28" x2="374.6" y2="419.28" stroke="#b4b4b4" stroke-width="1.25"/>
<line x1="90.37" y1="472.28" x2="374.6" y2="472.28" stroke="#b4b4b4" stroke-width="1.25"/>
<g clip-path="url(#cd)">
<path d="M102.6,389.8 L361.6,478.2" stroke="#000" stroke-width="1.15" stroke-dasharray="4.25,1.85" fill="none"/>
<path d="M102.93,413.45 L149.25,420.59 L176.34,427.32 L195.56,433.87 L210.47,436.85 L222.65,441.50 L232.95,445.66 L241.87,449.13 L249.74,452.08 L256.78,454.42 L263.15,456.53 L268.97,458.46 L274.31,460.24 L279.27,461.82 L283.88,463.22 L288.19,464.53 L292.24,465.76 L296.06,466.89 L299.67,467.88 L303.10,468.82 L306.36,469.71 L309.47,470.56 L312.44,471.38 L315.28,472.15 L318.01,472.90 L320.63,473.50 L323.15,474.07 L325.58,474.62 L327.92,475.16 L330.19,475.67 L332.38,476.17 L334.50,476.65 L336.56,477.12 L338.55,477.57 L340.49,477.97 L342.37,478.24 L344.20,478.50 L345.98,478.75 L347.72,479.00 L349.41,479.24 L351.06,479.47 L352.67,479.70 L354.24,479.93 L355.78,480.14 L357.28,480.36 L358.75,480.57 L360.19,480.77 L361.59,480.97" stroke-linejoin="round" stroke="#000" stroke-width="2.3" fill="none"/>
<path d="M102.93,375.78 L149.25,387.59 L176.34,394.74 L195.56,402.69 L210.47,410.68 L222.65,416.78 L232.95,421.83 L241.87,426.03 L249.74,429.73 L256.78,432.47 L263.15,434.42 L268.97,436.20 L274.31,438.17 L279.27,440.02 L283.88,441.74 L288.19,443.31 L292.24,444.42 L296.06,445.46 L299.67,446.45 L303.10,447.39 L306.36,448.28 L309.47,449.13 L312.44,449.95 L315.28,450.73 L318.01,451.47 L320.63,452.13 L323.15,452.72 L325.58,453.29 L327.92,453.83 L330.19,454.36 L332.38,454.87 L334.50,455.37 L336.56,455.85 L338.55,456.31 L340.49,456.76 L342.37,457.20 L344.20,457.46 L345.98,457.66 L347.72,457.85 L349.41,458.04 L351.06,458.22 L352.67,458.40 L354.24,458.58 L355.78,458.75 L357.28,458.92 L358.75,459.08 L360.19,459.24 L361.59,459.40" stroke-linejoin="round" stroke="#000" stroke-width="2.3" fill="none" stroke-dasharray="8.51,3.68"/>
<path d="M102.93,389.86 L149.25,397.80 L176.34,405.62 L195.56,412.44 L210.47,422.25 L222.65,432.00 L232.95,439.93 L241.87,446.31 L249.74,451.65 L256.78,456.43 L263.15,459.66 L268.97,462.05 L274.31,464.24 L279.27,466.11 L283.88,467.70 L288.19,469.18 L292.24,470.57 L296.06,471.88 L299.67,473.12 L303.10,474.20 L306.36,475.21 L309.47,476.18 L312.44,477.10 L315.28,477.96 L318.01,478.56 L320.63,479.13 L323.15,479.68 L325.58,480.22 L327.92,480.73 L330.19,481.23 L332.38,481.71 L334.50,482.17 L336.56,482.60 L338.55,482.94 L340.49,483.28 L342.37,483.61 L344.20,483.93 L345.98,484.24 L347.72,484.54 L349.41,484.84 L351.06,485.13 L352.67,485.41 L354.24,485.68 L355.78,485.95 L357.28,486.21 L358.75,486.41 L360.19,486.58 L361.59,486.75" stroke-linejoin="round" stroke="#000" stroke-width="2.3" fill="none" stroke-dasharray="14.72,3.68,2.30,3.68"/>
</g>
<rect x="90.37" y="341.18" width="284.23" height="183.21" fill="none" stroke="#5a5a5a" stroke-width="1.25"/>
<line x1="210.47" y1="524.39" x2="210.47" y2="528.59" stroke="#5a5a5a" stroke-width="1.2"/>
<line x1="364.32" y1="524.39" x2="364.32" y2="528.59" stroke="#5a5a5a" stroke-width="1.2"/>
<line x1="102.93" y1="524.39" x2="102.93" y2="526.79" stroke="#5a5a5a" stroke-width="0.9"/>
<line x1="130.03" y1="524.39" x2="130.03" y2="526.79" stroke="#5a5a5a" stroke-width="0.9"/>
<line x1="149.25" y1="524.39" x2="149.25" y2="526.79" stroke="#5a5a5a" stroke-width="0.9"/>
<line x1="164.16" y1="524.39" x2="164.16" y2="526.79" stroke="#5a5a5a" stroke-width="0.9"/>
<line x1="176.34" y1="524.39" x2="176.34" y2="526.79" stroke="#5a5a5a" stroke-width="0.9"/>
<line x1="186.64" y1="524.39" x2="186.64" y2="526.79" stroke="#5a5a5a" stroke-width="0.9"/>
<line x1="195.56" y1="524.39" x2="195.56" y2="526.79" stroke="#5a5a5a" stroke-width="0.9"/>
<line x1="203.43" y1="524.39" x2="203.43" y2="526.79" stroke="#5a5a5a" stroke-width="0.9"/>
<line x1="256.78" y1="524.39" x2="256.78" y2="526.79" stroke="#5a5a5a" stroke-width="0.9"/>
<line x1="283.88" y1="524.39" x2="283.88" y2="526.79" stroke="#5a5a5a" stroke-width="0.9"/>
<line x1="303.10" y1="524.39" x2="303.10" y2="526.79" stroke="#5a5a5a" stroke-width="0.9"/>
<line x1="318.01" y1="524.39" x2="318.01" y2="526.79" stroke="#5a5a5a" stroke-width="0.9"/>
<line x1="330.19" y1="524.39" x2="330.19" y2="526.79" stroke="#5a5a5a" stroke-width="0.9"/>
<line x1="340.49" y1="524.39" x2="340.49" y2="526.79" stroke="#5a5a5a" stroke-width="0.9"/>
<line x1="349.41" y1="524.39" x2="349.41" y2="526.79" stroke="#5a5a5a" stroke-width="0.9"/>
<line x1="357.28" y1="524.39" x2="357.28" y2="526.79" stroke="#5a5a5a" stroke-width="0.9"/>
<line x1="85.97" y1="367.07" x2="90.37" y2="367.07" stroke="#5a5a5a" stroke-width="1.2"/>
<line x1="85.97" y1="419.28" x2="90.37" y2="419.28" stroke="#5a5a5a" stroke-width="1.2"/>
<line x1="85.97" y1="472.28" x2="90.37" y2="472.28" stroke="#5a5a5a" stroke-width="1.2"/>
<line x1="85.97" y1="524.39" x2="90.37" y2="524.39" stroke="#5a5a5a" stroke-width="1.2"/>
<text x="43.50" y="373.41" font-size="16.67" font-family='"Liberation Sans", sans-serif' font-weight="normal" font-style="normal" fill="#1a1a1a" textLength="20.41" lengthAdjust="spacingAndGlyphs" >10</text>
<rect x="65.00" y="362.00" width="7.60" height="1.15" fill="#1a1a1a"/>
<text x="73.85" y="367.87" font-size="12.65" font-family='"Liberation Sans", sans-serif' font-weight="normal" font-style="normal" fill="#1a1a1a" textLength="6.97" lengthAdjust="spacingAndGlyphs" >1</text>
<text x="43.50" y="425.62" font-size="16.67" font-family='"Liberation Sans", sans-serif' font-weight="normal" font-style="normal" fill="#1a1a1a" textLength="20.41" lengthAdjust="spacingAndGlyphs" >10</text>
<rect x="65.00" y="414.20" width="7.60" height="1.15" fill="#1a1a1a"/>
<text x="74.37" y="419.96" font-size="12.29" font-family='"Liberation Sans", sans-serif' font-weight="normal" font-style="normal" fill="#1a1a1a" textLength="6.33" lengthAdjust="spacingAndGlyphs" >3</text>
<text x="43.50" y="478.62" font-size="16.67" font-family='"Liberation Sans", sans-serif' font-weight="normal" font-style="normal" fill="#1a1a1a" textLength="20.41" lengthAdjust="spacingAndGlyphs" >10</text>
<rect x="65.00" y="467.20" width="7.60" height="1.15" fill="#1a1a1a"/>
<text x="74.34" y="472.96" font-size="12.47" font-family='"Liberation Sans", sans-serif' font-weight="normal" font-style="normal" fill="#1a1a1a" textLength="6.33" lengthAdjust="spacingAndGlyphs" >5</text>
<text x="43.50" y="530.73" font-size="16.67" font-family='"Liberation Sans", sans-serif' font-weight="normal" font-style="normal" fill="#1a1a1a" textLength="20.41" lengthAdjust="spacingAndGlyphs" >10</text>
<rect x="65.00" y="519.31" width="7.60" height="1.15" fill="#1a1a1a"/>
<text x="74.19" y="525.19" font-size="12.65" font-family='"Liberation Sans", sans-serif' font-weight="normal" font-style="normal" fill="#1a1a1a" textLength="6.61" lengthAdjust="spacingAndGlyphs" >7</text>
<text x="191.66" y="546.64" font-size="16.67" font-family='"Liberation Sans", sans-serif' font-weight="normal" font-style="normal" fill="#1a1a1a" textLength="19.08" lengthAdjust="spacingAndGlyphs" >10</text>
<rect x="212.97" y="535.92" width="7.60" height="1.15" fill="#1a1a1a"/>
<text x="221.96" y="540.90" font-size="12.60" font-family='"Liberation Sans", sans-serif' font-weight="normal" font-style="normal" fill="#1a1a1a" textLength="6.71" lengthAdjust="spacingAndGlyphs" >2</text>
<text x="345.51" y="546.64" font-size="16.67" font-family='"Liberation Sans", sans-serif' font-weight="normal" font-style="normal" fill="#1a1a1a" textLength="19.08" lengthAdjust="spacingAndGlyphs" >10</text>
<rect x="366.82" y="535.92" width="7.60" height="1.15" fill="#1a1a1a"/>
<text x="375.45" y="540.90" font-size="12.79" font-family='"Liberation Sans", sans-serif' font-weight="normal" font-style="normal" fill="#1a1a1a" textLength="7.09" lengthAdjust="spacingAndGlyphs" >1</text>
<text x="169.85" y="333.00" font-size="20.06" font-family='"Liberation Sans", sans-serif' font-weight="normal" font-style="normal" fill="#1a1a1a" textLength="124.48" lengthAdjust="spacingAndGlyphs" >SBL --&gt; WRF</text>
<text x="208.26" y="570.60" font-size="16.70" font-family='"Liberation Sans", sans-serif' font-weight="normal" font-style="normal" fill="#1a1a1a" textLength="7.72" lengthAdjust="spacingAndGlyphs" >k</text>
<text x="216.00" y="571.02" font-size="17.97" font-family='"Liberation Sans", sans-serif' font-weight="normal" font-style="normal" fill="#1a1a1a" textLength="5.90" lengthAdjust="spacingAndGlyphs" >/</text>
<text x="221.96" y="570.60" font-size="16.74" font-family='"Liberation Sans", sans-serif' font-weight="normal" font-style="italic" fill="#1a1a1a" textLength="17.20" lengthAdjust="spacingAndGlyphs" >m</text>
<rect x="240.70" y="559.62" width="7.50" height="1.15" fill="#1a1a1a"/>
<text x="250.46" y="564.40" font-size="11.05" font-family='"Liberation Sans", sans-serif' font-weight="normal" font-style="normal" fill="#1a1a1a" textLength="5.42" lengthAdjust="spacingAndGlyphs" >1</text>
<g transform="translate(33.4,473.2) rotate(-90)">
<text x="-0.78" y="-1.10" font-size="15.46" font-family='"Liberation Sans", sans-serif' font-weight="normal" font-style="normal" fill="#1a1a1a" textLength="37.08" lengthAdjust="spacingAndGlyphs" >S(k)(</text>
<text x="38.49" y="0.80" font-size="18.60" font-family='"Liberation Sans", sans-serif' font-weight="normal" font-style="italic" fill="#1a1a1a" textLength="15.69" lengthAdjust="spacingAndGlyphs" >m</text>
<text x="54.97" y="-6.20" font-size="11.17" font-family='"Liberation Sans", sans-serif' font-weight="normal" font-style="normal" fill="#1a1a1a" textLength="5.86" lengthAdjust="spacingAndGlyphs" >2</text>
<text x="63.38" y="1.92" font-size="18.38" font-family='"Liberation Sans", sans-serif' font-weight="normal" font-style="italic" fill="#1a1a1a" textLength="12.14" lengthAdjust="spacingAndGlyphs" >/s</text>
<text x="77.20" y="-0.79" font-size="15.89" font-family='"Liberation Sans", sans-serif' font-weight="normal" font-style="normal" fill="#1a1a1a" textLength="5.53" lengthAdjust="spacingAndGlyphs" >)</text>
</g>
<rect x="397.5" y="349.5" width="228.7" height="101.8" rx="3" fill="#fff" stroke="#d4d4d4" stroke-width="1.2"/>
<line x1="403.8" y1="363.8" x2="437" y2="363.8" stroke="#000" stroke-width="1.15" stroke-dasharray="4.25,1.85"/>
<line x1="403.8" y1="388" x2="437" y2="388" stroke="#000" stroke-width="2.3"/>
<line x1="403.8" y1="412.6" x2="437" y2="412.6" stroke="#000" stroke-width="2.3" stroke-dasharray="8.51,3.68"/>
<line x1="403.8" y1="436.6" x2="437" y2="436.6" stroke="#000" stroke-width="2.3" stroke-dasharray="14.72,3.68,2.30,3.68"/>
<text x="450.30" y="369.10" font-size="16.70" font-family='"Liberation Sans", sans-serif' font-weight="normal" font-style="italic" fill="#1a1a1a" textLength="9.04" lengthAdjust="spacingAndGlyphs" >k</text>
<text x="462.98" y="368.95" font-size="13.96" font-family='"Liberation Sans", sans-serif' font-weight="normal" font-style="normal" fill="#1a1a1a" textLength="13.34" lengthAdjust="spacingAndGlyphs" >=</text>
<rect x="483.70" y="363.45" width="10.60" height="1.3" fill="#1a1a1a"/>
<text x="499.56" y="370.43" font-size="17.16" font-family='"Liberation Sans", sans-serif' font-weight="normal" font-style="normal" fill="#1a1a1a" textLength="25.65" lengthAdjust="spacingAndGlyphs" >5/3</text>
<text x="448.84" y="394.11" font-size="16.15" font-family='"Liberation Sans", sans-serif' font-weight="normal" font-style="normal" fill="#1a1a1a" textLength="168.46" lengthAdjust="spacingAndGlyphs" >z=90 m Before zone</text>
<text x="448.84" y="417.91" font-size="16.12" font-family='"Liberation Sans", sans-serif' font-weight="normal" font-style="normal" fill="#1a1a1a" textLength="163.30" lengthAdjust="spacingAndGlyphs" >z=90 m Inside zone</text>
<text x="448.84" y="441.61" font-size="16.12" font-family='"Liberation Sans", sans-serif' font-weight="normal" font-style="normal" fill="#1a1a1a" textLength="171.59" lengthAdjust="spacingAndGlyphs" >z=90 m Behind zone</text>
</svg></body></html>
